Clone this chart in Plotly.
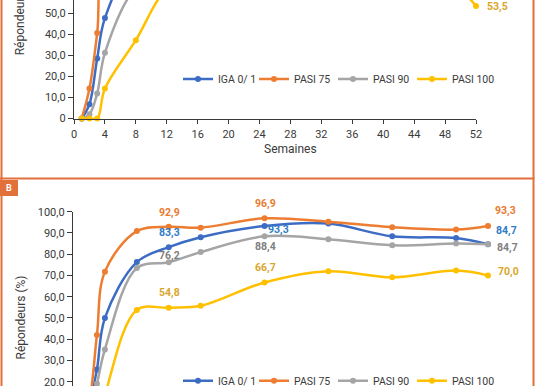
import plotly.graph_objects as go

W, H = 536, 386

# ---------------- data ----------------
series_names = ["IGA 0/ 1", "PASI 75", "PASI 90", "PASI 100"]

weeks_a = [1, 2, 3, 4, 8, 12, 16, 24, 32, 40, 48, 52]
iga_a = [0, 6.8, 28.5, 47.7, 76, 82, 85, 86, 85, 84, 83, 80]
pasi75_a = [0, 14.2, 40.6, 76, 89, 90, 91, 92, 91, 89, 88, 86]
pasi90_a = [0, 2, 11.9, 31.2, 62, 69, 73, 78, 77, 76, 75, 74]
pasi100_a = [0, 0, 0, 14.2, 37.2, 61, 65, 67, 68, 67, 66, 53.5]

weeks_b = [1, 2, 3, 4, 8, 12, 16, 24, 32, 40, 48, 52]
iga_b = [0, 9, 25.8, 50.0, 76.3, 83.3, 88.0, 93.3, 94.4, 88.4, 87.6, 84.7]
pasi75_b = [0, 10, 42.0, 71.8, 90.9, 92.9, 92.5, 96.9, 95.3, 92.7, 91.6, 93.3]
pasi90_b = [0, 4, 19, 35.2, 73.5, 76.2, 81.0, 88.4, 87.0, 84.2, 85.0, 84.7]
pasi100_b = [0, 0, 2, 14, 53.8, 54.8, 55.7, 66.7, 72.0, 69.1, 72.3, 70.0]

x_ticks = list(range(0, 53, 4))
y_ticks_a = [0, 10, 20, 30, 40, 50]
y_ticks_b = [20, 30, 40, 50, 60, 70, 80, 90, 100]

# ---------------- style ----------------
line_colors = ["#3D6CC4", "#ED7D31", "#A5A5A5", "#FFC000"]
label_colors = ["#2F7CC6", "#EA7A30", "#808080", "#D9A62A"]
border = "#E2703A"
axis_col = "#3a3a3a"
FONT = "Roboto"
legend_x_px = [178, 254, 333, 412]   # left edge of each legend entry
legend_y_px = {"a": 79, "b": 380.7}


def px_x(p):
    return p / W


def px_y(p):
    return 1 - p / H


def fmt(v):
    return "0" if v == 0 else f"{v:.1f}".replace(".", ",")


fig = go.Figure()
legends = {}
n = 0
for panel, data, weeks, xa, ya in [("a", [iga_a, pasi75_a, pasi90_a, pasi100_a], weeks_a, "x", "y"),
                                   ("b", [iga_b, pasi75_b, pasi90_b, pasi100_b], weeks_b, "x2", "y2")]:
    for i, (name, ys, c) in enumerate(zip(series_names, data, line_colors)):
        n += 1
        lg = "legend" if n == 1 else f"legend{n}"
        legends[lg] = dict(x=px_x(legend_x_px[i]), y=px_y(legend_y_px[panel]),
                           orientation="h", xanchor="left", yanchor="middle",
                           bgcolor="rgba(0,0,0,0)", itemwidth=30,
                           font=dict(family=FONT, size=10.5, color=axis_col))
        fig.add_trace(go.Scatter(
            x=weeks, y=ys, name=name, xaxis=xa, yaxis=ya, legend=lg,
            mode="lines+markers", cliponaxis=False,
            line=dict(color=c, width=2.5, shape="spline", smoothing=1),
            marker=dict(color=c, size=6)))

tickfont = dict(family=FONT, size=11, color=axis_col)

# value labels: (panel, series index, week, dx, dy)
label_specs = [
    ("a", 3, 52, 21, -1),
    ("b", 1, 12, 1, 14), ("b", 0, 12, 1, 14.5), ("b", 2, 12, 1, 7), ("b", 3, 12, 1, 15),
    ("b", 1, 24, 0.5, 15), ("b", 0, 24, 14, -4), ("b", 2, 24, 1, -10), ("b", 3, 24, 0.5, 15),
    ("b", 1, 52, 17, 15), ("b", 0, 52, 18, 14), ("b", 2, 52, 19, -3.5), ("b", 3, 52, 20, 4),
]
data_a = [iga_a, pasi75_a, pasi90_a, pasi100_a]
data_b = [iga_b, pasi75_b, pasi90_b, pasi100_b]
annotations = []
for panel, si, wk, dx, dy in label_specs:
    if panel == "a":
        val = data_a[si][weeks_a.index(wk)]
        xr, yr = "x", "y"
    else:
        val = data_b[si][weeks_b.index(wk)]
        xr, yr = "x2", "y2"
    annotations.append(dict(
        x=wk, y=val, xref=xr, yref=yr, text=fmt(val), showarrow=False,
        xshift=dx, yshift=dy, xanchor="center", yanchor="middle",
        font=dict(family=FONT, size=10.5, color=label_colors[si], weight="bold")))

annotations += [
    dict(x=px_x(20), y=px_y(13.3), xref="paper", yref="paper", text="Répondeurs (%)",
         textangle=-90, showarrow=False, xanchor="center", yanchor="middle",
         font=dict(family=FONT, size=12, color=axis_col)),
    dict(x=px_x(20), y=px_y(317.5), xref="paper", yref="paper", text="Répondeurs (%)",
         textangle=-90, showarrow=False, xanchor="center", yanchor="middle",
         font=dict(family=FONT, size=12, color=axis_col)),
    dict(x=px_x(290), y=px_y(149), xref="paper", yref="paper", text="Semaines",
         showarrow=False, xanchor="center", yanchor="middle",
         font=dict(family=FONT, size=12, color=axis_col)),
    dict(x=px_x(9), y=px_y(188), xref="paper", yref="paper", text="B",
         showarrow=False, xanchor="center", yanchor="middle",
         font=dict(family=FONT, size=9, color="white", weight="bold")),
]

shapes = [
    dict(type="line", xref="paper", yref="paper", x0=px_x(1.5), x1=px_x(1.5), y0=0, y1=1,
         line=dict(color=border, width=2)),
    dict(type="line", xref="paper", yref="paper", x0=px_x(533.5), x1=px_x(533.5), y0=0, y1=1,
         line=dict(color=border, width=2)),
    dict(type="line", xref="paper", yref="paper", x0=0, x1=px_x(534.5), y0=px_y(178.5), y1=px_y(178.5),
         line=dict(color=border, width=2)),
    dict(type="rect", xref="paper", yref="paper", x0=0, x1=px_x(18), y0=px_y(196), y1=px_y(180),
         line=dict(width=0), fillcolor=border),
]

fig.update_layout(
    width=W, height=H, margin=dict(l=0, r=0, t=0, b=0, autoexpand=False),
    paper_bgcolor="white", plot_bgcolor="white", showlegend=True,
    xaxis=dict(domain=[px_x(74), px_x(476)], range=[0, 52], anchor="y",
               tickvals=x_ticks, ticks="outside", ticklen=4, tickcolor=axis_col,
               showline=True, linecolor=axis_col, linewidth=1.3, showgrid=False,
               zeroline=False, tickfont=tickfont, automargin=False),
    yaxis=dict(domain=[px_y(119.3), 1], range=[-0.4, 56.3], anchor="x",
               tickvals=y_ticks_a, ticktext=[fmt(v) for v in y_ticks_a],
               ticks="outside", ticklen=5, tickcolor=axis_col, ticklabeloverflow="allow",
               showline=True, linecolor=axis_col, linewidth=1.3, showgrid=False,
               zeroline=False, tickfont=tickfont, automargin=False),
    xaxis2=dict(domain=[px_x(73), px_x(488)], range=[0, 52], anchor="y2", visible=False),
    yaxis2=dict(domain=[0, px_y(211.7)], range=[17.98, 100], anchor="x2",
                tickvals=y_ticks_b, ticktext=[fmt(v) for v in y_ticks_b],
                ticks="outside", ticklen=5, tickcolor=axis_col, ticklabeloverflow="allow",
                showline=True, linecolor=axis_col, linewidth=1.3, showgrid=False,
                zeroline=False, tickfont=tickfont, automargin=False),
    annotations=annotations, shapes=shapes,
    **legends,
)

fig.write_html("out.html", config={"displayModeBar": False},
               post_script="document.body.style.margin='0px';document.body.style.overflow='hidden';")
